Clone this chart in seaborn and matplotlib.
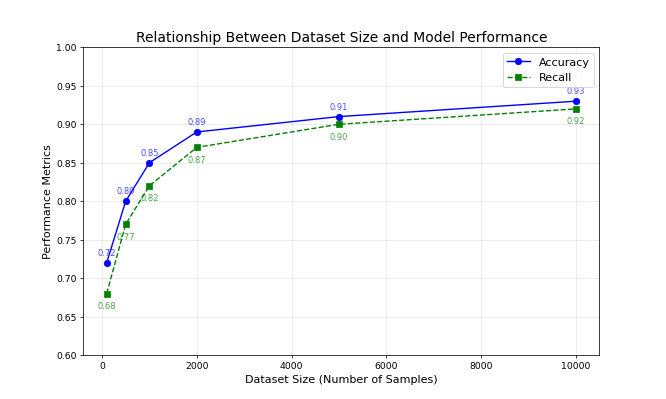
import pandas as pd
import matplotlib
matplotlib.use("Agg")
import matplotlib.pyplot as plt
import seaborn as sns

# Data
dataset_sizes = [100, 500, 1000, 2000, 5000, 10000]
accuracy = [0.72, 0.80, 0.85, 0.89, 0.91, 0.93]
recall = [0.68, 0.77, 0.82, 0.87, 0.90, 0.92]

data = pd.DataFrame({'Dataset Size': dataset_sizes, 'Accuracy': accuracy, 'Recall': recall})

fig, ax = plt.subplots(figsize=(10, 6), dpi=66.6)

sns.lineplot(x='Dataset Size', y='Accuracy', data=data, ax=ax, color='blue',
             marker='o', markersize=7, markeredgecolor='blue', linestyle='-', label='Accuracy')
sns.lineplot(x='Dataset Size', y='Recall', data=data, ax=ax, color='green',
             marker='s', markersize=7, markeredgecolor='green', linestyle='--', label='Recall')

# Value labels
for x, a, r in zip(dataset_sizes, accuracy, recall):
    ax.annotate(f'{a:.2f}', (x, a), textcoords='offset points', xytext=(0, 8),
                ha='center', fontsize=9, color='blue', alpha=0.7)
    ax.annotate(f'{r:.2f}', (x, r), textcoords='offset points', xytext=(0, -16),
                ha='center', fontsize=9, color='green', alpha=0.7)

ax.set_ylim(0.6, 1.0)
ax.set_title('Relationship Between Dataset Size and Model Performance', fontsize=15)
ax.set_xlabel('Dataset Size (Number of Samples)', fontsize=12)
ax.set_ylabel('Performance Metrics', fontsize=12)
ax.legend(fontsize=12, loc='upper right')
ax.grid(alpha=0.3)

plt.savefig('out.png', dpi=66.6)
